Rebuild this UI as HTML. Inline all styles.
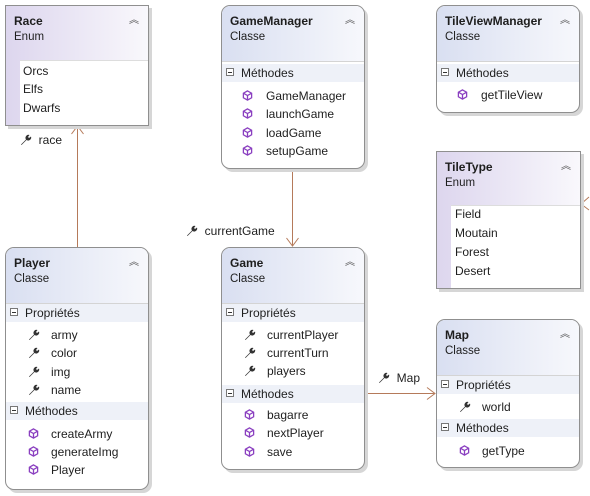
<!DOCTYPE html>
<html><head><meta charset="utf-8"><style>
body{margin:0;width:590px;height:496px;background:#fff;position:relative;overflow:hidden;font-family:"Liberation Sans",sans-serif;font-size:12px;color:#1e1e1e}
.b{position:absolute;border:1px solid #8f8f8f;box-shadow:3px 3px 0 #d6d6d6;overflow:hidden;background:#fff}
.c{border-radius:9px}
.hc{position:absolute;left:0;right:0;top:0;height:55px;background:linear-gradient(to right,#d9dff1,#f7f8fc);border-bottom:1px solid #d4d4d4}
.he{position:absolute;left:0;right:0;top:0;bottom:0;background:linear-gradient(to right,#ddd6ee,#f9f8fc)}
.t{position:absolute;font-weight:bold;font-size:12px}
.s{position:absolute;font-size:11.5px}
.ch{position:absolute;right:9px;top:5px;font-size:10px;color:#555}
.sec{position:absolute;left:0;right:0;height:18px;background:#eef1f8;line-height:18px}
.sec i{position:absolute;left:4px;top:4px;width:8px;height:8px;border:1px solid #777;background:#fff;box-sizing:border-box}
.sec i:after{content:"";position:absolute;left:1px;top:3px;width:4px;height:1px;background:#333}
.sec span{position:absolute;left:19px}
.it{position:absolute;line-height:18px;white-space:nowrap}
.l{position:absolute;background:#b57a5a}
.lst{position:absolute;background:#fff;border-top:1px solid #ddd}
</style></head><body>
<svg width="0" height="0" style="position:absolute"><defs>
<symbol id="w" viewBox="0 0 12 12"><path d="M1 10.5 L6 5.5 A3 3 0 0 1 9.5 1 L8 3 L9 4 L11 2.5 A3 3 0 0 1 6.5 6 L1.5 11 Z" fill="#333"/></symbol>
<symbol id="m" viewBox="0 0 12 12"><path d="M6 1 L10.5 3.5 L10.5 8.5 L6 11 L1.5 8.5 L1.5 3.5 Z M1.5 3.5 L6 6 L10.5 3.5 M6 6 L6 11" fill="none" stroke="#8a3fc0" stroke-width="1.4"/></symbol>
</defs></svg>

<!-- connectors -->
<div class="l" style="left:77px;top:127px;width:1px;height:120px"></div>
<svg style="position:absolute;left:71px;top:125px" width="13" height="10"><path d="M0.5 9 L6.5 1 L12.5 9" fill="none" stroke="#b57a5a"/></svg>
<div class="it" style="left:20px;top:131px"><svg width="12" height="12" style="vertical-align:-2px"><use href="#w"/></svg>&nbsp;&nbsp;race</div>

<div class="l" style="left:292px;top:169px;width:1px;height:77px"></div>
<svg style="position:absolute;left:286px;top:237px" width="13" height="10"><path d="M0.5 1 L6.5 9 L12.5 1" fill="none" stroke="#b57a5a"/></svg>
<div class="it" style="left:186px;top:222px"><svg width="12" height="12" style="vertical-align:-2px"><use href="#w"/></svg>&nbsp;&nbsp;currentGame</div>

<div class="l" style="left:365px;top:393px;width:70px;height:1px"></div>
<svg style="position:absolute;left:426px;top:387px" width="10" height="13"><path d="M1 0.5 L9 6.5 L1 12.5" fill="none" stroke="#b57a5a"/></svg>
<div class="it" style="left:378px;top:369px"><svg width="12" height="12" style="vertical-align:-2px"><use href="#w"/></svg>&nbsp;&nbsp;Map</div>

<svg style="position:absolute;left:580px;top:196px" width="10" height="16"><path d="M9 1 L1 8 L9 14" fill="none" stroke="#b57a5a"/></svg>

<!-- Race -->
<div class="b" style="left:5px;top:5px;width:142px;height:119px">
<div class="he"></div>
<div class="lst" style="left:14px;right:0;top:54px;bottom:0"></div>
<div class="t" style="left:8px;top:8px">Race</div><div class="s" style="left:8px;top:25px">Enum</div><div class="ch">︽</div>
<div class="it" style="left:17px;top:56px">Orcs</div>
<div class="it" style="left:17px;top:74px">Elfs</div>
<div class="it" style="left:17px;top:93px">Dwarfs</div>
</div>

<!-- GameManager -->
<div class="b c" style="left:221px;top:5px;width:142px;height:162px">
<div class="hc"></div>
<div class="t" style="left:8px;top:8px">GameManager</div><div class="s" style="left:8px;top:25px">Classe</div><div class="ch">︽</div>
<div class="sec" style="top:58px"><i></i><span>Méthodes</span></div>
<div class="it" style="left:20px;top:81px"><svg width="11" height="11" style="vertical-align:-1px"><use href="#m"/></svg></div><div class="it" style="left:44px;top:81px">GameManager</div>
<div class="it" style="left:20px;top:99px"><svg width="11" height="11" style="vertical-align:-1px"><use href="#m"/></svg></div><div class="it" style="left:44px;top:99px">launchGame</div>
<div class="it" style="left:20px;top:118px"><svg width="11" height="11" style="vertical-align:-1px"><use href="#m"/></svg></div><div class="it" style="left:44px;top:118px">loadGame</div>
<div class="it" style="left:20px;top:136px"><svg width="11" height="11" style="vertical-align:-1px"><use href="#m"/></svg></div><div class="it" style="left:44px;top:136px">setupGame</div>
</div>

<!-- TileViewManager -->
<div class="b c" style="left:436px;top:5px;width:142px;height:106px">
<div class="hc"></div>
<div class="t" style="left:8px;top:8px">TileViewManager</div><div class="s" style="left:8px;top:25px">Classe</div><div class="ch">︽</div>
<div class="sec" style="top:58px"><i></i><span>Méthodes</span></div>
<div class="it" style="left:20px;top:80px"><svg width="11" height="11" style="vertical-align:-1px"><use href="#m"/></svg></div><div class="it" style="left:44px;top:80px">getTileView</div>
</div>

<!-- TileType -->
<div class="b" style="left:436px;top:151px;width:143px;height:136px">
<div class="he"></div>
<div class="lst" style="left:14px;right:0;top:53px;bottom:0"></div>
<div class="t" style="left:8px;top:8px">TileType</div><div class="s" style="left:8px;top:25px">Enum</div><div class="ch">︽</div>
<div class="it" style="left:18px;top:53px">Field</div>
<div class="it" style="left:18px;top:72px">Moutain</div>
<div class="it" style="left:18px;top:91px">Forest</div>
<div class="it" style="left:18px;top:110px">Desert</div>
</div>

<!-- Player -->
<div class="b c" style="left:5px;top:247px;width:142px;height:241px">
<div class="hc"></div>
<div class="t" style="left:8px;top:8px">Player</div><div class="s" style="left:8px;top:25px">Classe</div><div class="ch">︽</div>
<div class="sec" style="top:56px"><i></i><span>Propriétés</span></div>
<div class="it" style="left:22px;top:78px"><svg width="12" height="12" style="vertical-align:-2px"><use href="#w"/></svg></div><div class="it" style="left:45px;top:78px">army</div>
<div class="it" style="left:22px;top:96px"><svg width="12" height="12" style="vertical-align:-2px"><use href="#w"/></svg></div><div class="it" style="left:45px;top:96px">color</div>
<div class="it" style="left:22px;top:115px"><svg width="12" height="12" style="vertical-align:-2px"><use href="#w"/></svg></div><div class="it" style="left:45px;top:115px">img</div>
<div class="it" style="left:22px;top:133px"><svg width="12" height="12" style="vertical-align:-2px"><use href="#w"/></svg></div><div class="it" style="left:45px;top:133px">name</div>
<div class="sec" style="top:154px"><i></i><span>Méthodes</span></div>
<div class="it" style="left:22px;top:177px"><svg width="11" height="11" style="vertical-align:-1px"><use href="#m"/></svg></div><div class="it" style="left:45px;top:177px">createArmy</div>
<div class="it" style="left:22px;top:195px"><svg width="11" height="11" style="vertical-align:-1px"><use href="#m"/></svg></div><div class="it" style="left:45px;top:195px">generateImg</div>
<div class="it" style="left:22px;top:213px"><svg width="11" height="11" style="vertical-align:-1px"><use href="#m"/></svg></div><div class="it" style="left:45px;top:213px">Player</div>
</div>

<!-- Game -->
<div class="b c" style="left:221px;top:247px;width:142px;height:221px">
<div class="hc"></div>
<div class="t" style="left:8px;top:8px">Game</div><div class="s" style="left:8px;top:25px">Classe</div><div class="ch">︽</div>
<div class="sec" style="top:56px"><i></i><span>Propriétés</span></div>
<div class="it" style="left:22px;top:78px"><svg width="12" height="12" style="vertical-align:-2px"><use href="#w"/></svg></div><div class="it" style="left:45px;top:78px">currentPlayer</div>
<div class="it" style="left:22px;top:96px"><svg width="12" height="12" style="vertical-align:-2px"><use href="#w"/></svg></div><div class="it" style="left:45px;top:96px">currentTurn</div>
<div class="it" style="left:22px;top:114px"><svg width="12" height="12" style="vertical-align:-2px"><use href="#w"/></svg></div><div class="it" style="left:45px;top:114px">players</div>
<div class="sec" style="top:137px"><i></i><span>Méthodes</span></div>
<div class="it" style="left:22px;top:158px"><svg width="11" height="11" style="vertical-align:-1px"><use href="#m"/></svg></div><div class="it" style="left:45px;top:158px">bagarre</div>
<div class="it" style="left:22px;top:176px"><svg width="11" height="11" style="vertical-align:-1px"><use href="#m"/></svg></div><div class="it" style="left:45px;top:176px">nextPlayer</div>
<div class="it" style="left:22px;top:195px"><svg width="11" height="11" style="vertical-align:-1px"><use href="#m"/></svg></div><div class="it" style="left:45px;top:195px">save</div>
</div>

<!-- Map -->
<div class="b c" style="left:436px;top:319px;width:142px;height:147px">
<div class="hc"></div>
<div class="t" style="left:8px;top:8px">Map</div><div class="s" style="left:8px;top:25px">Classe</div><div class="ch">︽</div>
<div class="sec" style="top:56px"><i></i><span>Propriétés</span></div>
<div class="it" style="left:22px;top:78px"><svg width="12" height="12" style="vertical-align:-2px"><use href="#w"/></svg></div><div class="it" style="left:45px;top:78px">world</div>
<div class="sec" style="top:99px"><i></i><span>Méthodes</span></div>
<div class="it" style="left:22px;top:122px"><svg width="11" height="11" style="vertical-align:-1px"><use href="#m"/></svg></div><div class="it" style="left:45px;top:122px">getType</div>
</div>
</body></html>
